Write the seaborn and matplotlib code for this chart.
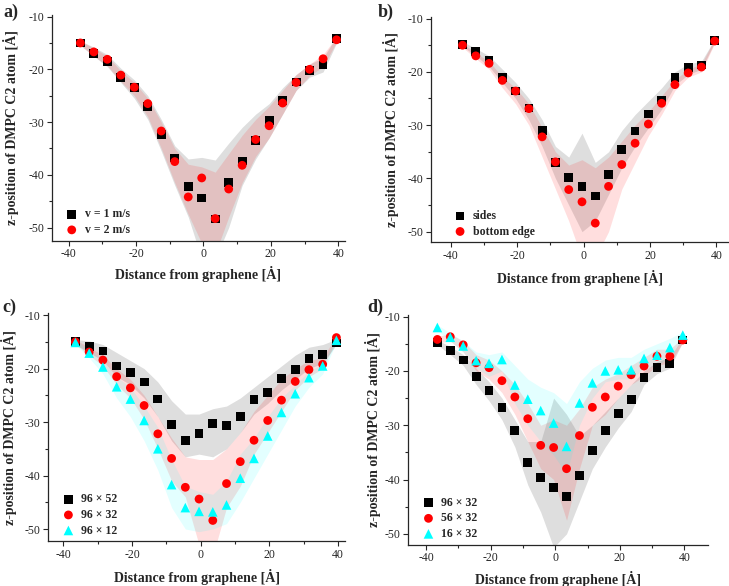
import numpy as np
import pandas as pd
import matplotlib
matplotlib.use("Agg")
import matplotlib.pyplot as plt
from matplotlib.ticker import MultipleLocator
import seaborn as sns

sns.set_style("ticks")
plt.rcParams['font.family'] = ['Liberation Serif', 'DejaVu Serif']
plt.rcParams['font.weight'] = 'bold'
plt.rcParams['axes.unicode_minus'] = False

# distance from graphene [A]
dist = [-36.5, -32.5, -28.5, -24.5, -20.5, -16.5, -12.5, -8.5, -4.5, -0.5,
        3.5, 7.5, 11.5, 15.5, 19.5, 23.5, 27.5, 31.5, 35.5, 39.5]

# a) velocity
a_v1 = [-15.0, -17.0, -18.5, -21.5, -23.5, -27.0, -32.3, -36.8, -42.2, -44.4,
        -48.4, -41.5, -37.4, -33.5, -29.7, -25.9, -22.4, -20.2, -19.2, -14.2]
a_v1_hi = [-14.6, -15.8, -17.2, -19.8, -22.0, -25.0, -29.5, -34.5, -37.0, -36.7,
           -37.2, -34.0, -31.0, -28.5, -26.5, -23.5, -21.0, -19.0, -17.8, -13.8]
a_v1_lo = [-15.5, -17.5, -19.5, -22.5, -25.5, -29.5, -35.5, -42.0, -48.0, -56.0,
           -56.0, -50.0, -42.0, -37.0, -33.0, -28.5, -24.0, -21.5, -20.5, -15.0]
a_v2 = [-15.0, -16.7, -18.1, -21.1, -23.4, -26.5, -31.7, -37.5, -44.2, -40.6,
        -48.3, -42.7, -38.2, -33.3, -30.7, -26.4, -22.5, -20.0, -18.0, -14.4]
a_v2_hi = [-14.6, -16.0, -17.5, -20.3, -22.5, -25.5, -30.0, -35.0, -38.0, -38.5,
           -39.5, -36.0, -32.5, -29.5, -27.0, -24.0, -21.0, -19.0, -17.2, -13.8]
a_v2_lo = [-15.4, -17.5, -19.3, -22.3, -25.0, -29.0, -35.0, -41.5, -47.5, -53.0,
           -55.0, -48.0, -41.5, -36.5, -33.0, -28.5, -24.0, -21.2, -19.5, -14.8]

# b) sides vs bottom edge
b_side = [-14.8, -16.2, -17.9, -21.0, -23.6, -26.8, -31.0, -37.0, -39.8, -41.5,
          -43.3, -39.3, -34.6, -31.1, -27.9, -25.3, -21.1, -19.2, -18.7, -14.1]
b_side_hi = [-14.3, -15.6, -17.0, -19.5, -22.0, -25.0, -29.0, -34.0, -36.0, -31.5,
             -37.0, -35.0, -31.0, -28.0, -25.5, -23.0, -20.0, -18.5, -18.0, -13.8]
b_side_lo = [-15.2, -17.0, -19.0, -22.0, -25.0, -29.0, -34.0, -40.0, -45.0, -50.0,
             -48.0, -43.0, -38.0, -34.0, -30.5, -27.0, -22.5, -20.5, -19.5, -14.4]
b_bot = [-15.0, -17.0, -18.4, -21.6, -23.6, -26.9, -32.2, -36.9, -42.1, -44.4,
         -48.4, -41.5, -37.4, -33.4, -29.8, -25.9, -22.4, -20.2, -19.1, -14.2]
b_bot_hi = [-14.6, -16.5, -18.0, -21.0, -23.0, -26.0, -30.5, -35.0, -37.5, -36.5,
            -38.0, -36.0, -33.0, -30.0, -27.5, -24.5, -21.5, -19.5, -18.5, -13.8]
b_bot_lo = [-15.4, -17.5, -19.5, -23.0, -26.0, -30.0, -36.0, -42.0, -48.0, -55.0,
            -55.0, -50.0, -42.0, -37.0, -32.0, -28.0, -23.5, -21.0, -20.0, -14.6]

# c) box height
c_52 = [-15.0, -15.8, -16.7, -19.5, -20.7, -22.5, -25.7, -30.4, -33.4, -32.2,
        -30.3, -30.6, -28.9, -25.8, -24.5, -21.8, -20.2, -18.1, -17.3, -15.2]
c_52_hi = [-14.6, -14.8, -15.5, -17.0, -18.5, -20.0, -22.5, -26.0, -28.5, -28.5,
           -27.5, -27.0, -25.5, -23.5, -21.5, -19.5, -17.5, -16.0, -15.5, -14.5]
c_52_lo = [-15.5, -17.0, -18.5, -21.5, -23.0, -25.5, -29.0, -33.5, -36.5, -36.0,
           -36.5, -35.0, -32.0, -28.5, -26.5, -24.0, -22.0, -20.0, -19.0, -15.5]
c_32 = [-15.0, -16.9, -18.4, -21.5, -23.6, -26.9, -32.2, -36.8, -42.2, -44.4,
        -48.4, -41.5, -37.4, -33.4, -29.7, -25.9, -22.4, -20.2, -19.2, -14.2]
c_32_hi = [-14.6, -16.0, -17.5, -20.0, -22.0, -25.0, -29.0, -33.0, -36.5, -37.0,
           -37.0, -35.0, -32.0, -28.0, -25.0, -22.0, -20.0, -18.5, -18.0, -13.8]
c_32_lo = [-15.4, -17.5, -19.5, -23.0, -25.5, -29.5, -35.0, -41.0, -44.0, -53.0,
           -55.0, -46.0, -42.0, -36.0, -32.0, -28.0, -24.0, -21.5, -20.0, -14.6]
c_12 = [-15.1, -17.1, -19.7, -23.4, -25.7, -29.7, -35.0, -41.7, -46.0, -46.7,
        -46.8, -45.5, -40.5, -36.8, -32.6, -28.2, -24.7, -21.7, -19.5, -14.7]
c_12_hi = [-14.6, -16.5, -18.5, -21.5, -23.5, -27.0, -31.0, -37.0, -42.0, -43.0,
           -43.5, -41.0, -36.0, -33.0, -29.0, -25.5, -23.0, -20.5, -19.0, -14.0]
c_12_lo = [-15.5, -18.0, -21.0, -25.5, -29.0, -33.5, -39.0, -46.0, -50.0, -50.5,
           -50.0, -49.0, -45.0, -40.5, -36.0, -31.5, -27.0, -23.5, -21.0, -15.0]

# d) box width
d_96 = [-14.8, -16.2, -18.0, -21.0, -23.6, -26.8, -31.0, -36.9, -39.6, -41.4,
        -43.1, -39.3, -34.6, -31.0, -27.9, -25.3, -21.2, -19.3, -18.7, -14.3]
d_96_hi = [-14.3, -15.5, -17.0, -19.5, -22.0, -25.0, -29.0, -33.0, -33.0, -25.0,
           -28.0, -32.0, -30.0, -27.5, -25.0, -22.5, -20.0, -18.3, -17.5, -13.8]
d_96_lo = [-15.2, -17.0, -19.0, -22.5, -25.5, -29.0, -34.0, -41.0, -46.0, -52.5,
           -50.0, -44.0, -38.0, -34.0, -30.5, -27.5, -22.5, -20.5, -19.5, -14.6]
d_56 = [-14.2, -13.7, -15.2, -18.5, -19.4, -21.8, -24.8, -28.8, -33.7, -34.1,
        -38.0, -31.9, -26.7, -24.8, -22.8, -20.7, -19.1, -17.3, -17.3, -14.3]
d_56_hi = [-13.6, -13.2, -14.5, -17.0, -18.0, -20.0, -22.5, -26.0, -30.0, -29.0,
           -30.0, -27.0, -23.0, -21.5, -20.5, -19.0, -17.5, -16.0, -16.0, -13.8]
d_56_lo = [-14.8, -14.5, -16.5, -20.0, -21.5, -24.0, -28.0, -33.0, -38.0, -40.0,
           -47.5, -38.0, -30.0, -28.0, -25.0, -22.5, -21.0, -19.0, -18.5, -14.8]
d_16 = [-12.0, -13.8, -15.4, -18.1, -18.6, -17.9, -22.6, -25.2, -27.3, -29.6,
        -33.9, -25.9, -22.2, -20.0, -19.8, -19.8, -17.7, -17.1, -15.7, -13.4]
d_16_hi = [-11.5, -13.0, -14.5, -16.5, -17.0, -16.5, -19.0, -21.5, -23.0, -24.0,
           -26.0, -22.0, -19.5, -18.0, -17.5, -17.5, -16.0, -15.0, -14.0, -12.8]
d_16_lo = [-12.5, -14.5, -16.5, -19.5, -21.0, -20.0, -26.0, -30.0, -33.0, -35.5,
           -39.0, -30.0, -25.0, -22.0, -21.5, -21.5, -19.5, -19.0, -17.5, -14.0]

W, H = 729, 586
fig = plt.figure(figsize=(W / 100, H / 100), dpi=100)

def add_ax(left, right, top, bottom):
    return fig.add_axes([left / W, 1 - bottom / H, (right - left) / W, (bottom - top) / H])

styles = {'k': ('s', 'black', 0.13), 'r': ('o', 'red', 0.13), 'c': ('^', 'cyan', 0.11)}

def panel(ax, series, xlim, ylim, tag, tagxy, legxy, ylab_x, xlab_y):
    for key, y, hi, lo, lab in series:
        ax.fill_between(dist, lo, hi, color=styles[key][1], alpha=styles[key][2], lw=0)
    for key, y, hi, lo, lab in series:
        mk, col, _ = styles[key]
        sz = 48 if mk == '^' else 40
        sns.scatterplot(x=dist, y=y, ax=ax, marker=mk, color=col, s=sz,
                        edgecolor='none', label=lab, zorder=3)
    ax.set_xlim(*xlim)
    ax.set_ylim(*ylim)
    ax.xaxis.set_major_locator(MultipleLocator(20))
    ax.xaxis.set_minor_locator(MultipleLocator(10))
    ax.yaxis.set_major_locator(MultipleLocator(10))
    ax.yaxis.set_minor_locator(MultipleLocator(5))
    ax.tick_params(which='major', length=3.5, width=0.8, labelsize=8.5, pad=2)
    ax.tick_params(which='minor', length=2, width=0.8)
    for lbl in ax.get_xticklabels() + ax.get_yticklabels():
        lbl.set_fontweight('normal')
    sns.despine(ax=ax)
    for sp in ['left', 'bottom']:
        ax.spines[sp].set_linewidth(0.9)
    ax.set_xlabel('Distance from graphene [Ȧ]', fontsize=10, fontweight='bold')
    ax.set_ylabel('z-position of DMPC C2 atom [Ȧ]', fontsize=10, fontweight='bold')
    ax.yaxis.set_label_coords(ylab_x, 0.5)
    ax.xaxis.set_label_coords(0.5, xlab_y)
    ax.legend(loc='lower left', bbox_to_anchor=legxy, frameon=False,
              prop={'weight': 'bold', 'size': 8.5}, handletextpad=0.3,
              handlelength=1.6, labelspacing=0.3, borderaxespad=0)
    fig.text(tagxy[0] / W, 1 - tagxy[1] / H, tag, fontsize=13, fontweight='bold',
             va='center', ha='left')

ax_a = add_ax(51.7, 345, 15, 240.7)
panel(ax_a, [('k', a_v1, a_v1_hi, a_v1_lo, 'v = 1 m/s'),
             ('r', a_v2, a_v2_hi, a_v2_lo, 'v = 2 m/s')],
      (-45, 42), (-52.5, -9.7), 'a)', (3, 12), (0.02, 0.0), -0.111, -0.112)

ax_b = add_ax(431, 729, 17, 242.3)
panel(ax_b, [('k', b_side, b_side_hi, b_side_lo, 'sides'),
             ('r', b_bot, b_bot_hi, b_bot_lo, 'bottom edge')],
      (-46, 43.8), (-52, -9.7), 'b)', (378, 12), (0.05, 0.0), -0.107, -0.123)

ax_c = add_ax(48.3, 345, 313, 541.3)
panel(ax_c, [('k', c_52, c_52_hi, c_52_lo, '96 × 52'),
             ('r', c_32, c_32_hi, c_32_lo, '96 × 32'),
             ('c', c_12, c_12_hi, c_12_lo, '96 × 12')],
      (-44.4, 42), (-52.3, -9.6), 'c)', (2, 307), (0.02, 0.0), -0.105, -0.121)

ax_d = add_ax(408.3, 708.3, 315, 544.7)
panel(ax_d, [('k', d_96, d_96_hi, d_96_lo, '96 × 32'),
             ('r', d_56, d_56_hi, d_56_lo, '56 × 32'),
             ('c', d_16, d_16_hi, d_16_lo, '16 × 32')],
      (-45.5, 47.4), (-52, -9.7), 'd)', (367, 307), (0.02, 0.0), -0.091, -0.115)

fig.savefig('out.png', dpi=100)
